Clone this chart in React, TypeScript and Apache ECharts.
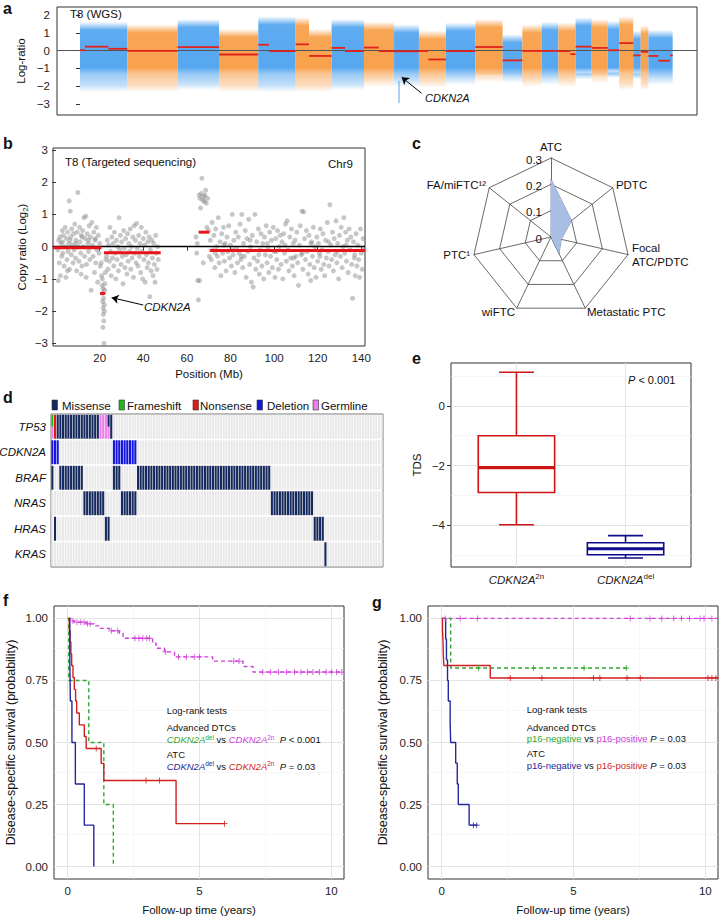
import React, { useEffect, useRef } from 'react';
import * as echarts from 'echarts';

const FONT = '"Liberation Sans", Arial, Helvetica, sans-serif';

// ---------------- Panel a: WGS log-ratio (genome position, Mb-like index) ----------------
// [start, end, upper edge, lower edge, colour index 0 = blue, 1 = orange]
const wgsBands: number[][] = [
  [0, 247, 1.6, -2.3, 0],
  [247, 510, 1.45, -2.3, 1],
  [510, 726, 1.75, -2.2, 0],
  [726, 931, 1.2, -2.3, 1],
  [931, 1126, 1.9, -2.3, 0],
  [1126, 1196, 1.85, -2.3, 1],
  [1196, 1314, 1.2, -2.3, 1],
  [1314, 1483, 1.75, -2.2, 0],
  [1483, 1640, 1.6, -2.0, 1],
  [1640, 1770, 1.45, -2.0, 0],
  [1770, 1911, 1.1, -2.05, 1],
  [1911, 2064, 1.55, -1.9, 0],
  [2064, 2207, 1.75, -1.75, 1],
  [2207, 2310, 0.9, -1.8, 0],
  [2310, 2411, 1.45, -2.0, 1],
  [2411, 2498, 1.6, -1.9, 0],
  [2498, 2588, 1.55, -2.0, 1],
  [2588, 2672, 1.85, -1.6, 0],
  [2672, 2756, 1.75, -1.8, 1],
  [2756, 2816, 1.65, -1.5, 0],
  [2816, 2889, 1.9, -2.2, 1],
  [2889, 2928, 1.1, -1.6, 0],
  [2928, 2968, 1.4, -2.2, 1],
  [2968, 3095, 1.15, -1.9, 0],
];
// segment means [start, end, value]
const wgsSegments: number[][] = [
  [0, 26, 0.02], [26, 148, 0.22], [148, 247, 0.1],
  [247, 510, -0.02], [510, 726, 0.2], [726, 931, -0.22],
  [931, 987, 0.33], [987, 1126, -0.03],
  [1126, 1196, 0.35], [1196, 1314, -0.3],
  [1314, 1384, 0.15], [1384, 1483, -0.03],
  [1483, 1560, 0.17], [1560, 1640, -0.03],
  [1640, 1770, -0.04],
  [1770, 1819, -0.02], [1819, 1911, -0.5],
  [1911, 2064, -0.03], [2064, 2207, 0.2], [2207, 2310, -0.55],
  [2310, 2411, -0.02], [2411, 2498, -0.02],
  [2498, 2560, -0.03], [2560, 2588, -0.2],
  [2588, 2672, 0.22], [2672, 2756, 0.15], [2756, 2816, 0.02],
  [2816, 2889, 0.42], [2889, 2928, -0.27], [2928, 2968, -0.07],
  [2968, 3020, -0.3], [3020, 3081, -0.57], [3081, 3095, -0.27],
];
const wgsSpike: number[][] = [[1666, -1.7, -2.95]];
const wgsTicks = [-3, -2, -1, 0, 1, 2];

// ---------------- Panel b: targeted sequencing, chr9 ----------------
const tsPoints: number[][] = [
  [0.8,-0.1],[1.2,0.2],[1.5,-0.5],[1.8,0.3],[2.0,-0.9],[2.3,0.1],[2.6,-0.3],[2.9,0.5],[3.1,-0.2],[3.4,0.35],[3.7,-0.6],[4.0,0.0],[4.2,0.6],[4.5,-0.95],[4.7,0.25],[5.0,-0.4],[5.3,0.45],[5.5,-0.15],[5.8,0.1],[6.0,1.42],[6.2,-0.7],[6.5,1.1],[6.7,0.3],[7.0,-0.25],[7.2,0.55],[7.5,0.05],[7.8,-0.5],[8.0,0.4],[8.3,-0.1],[8.6,0.7],[8.9,-0.35],[9.1,0.2],[9.4,-0.75],[9.7,0.45],[10.0,1.68],[10.2,0.0],[10.5,-0.45],[10.8,0.6],[11.0,0.15],[11.3,-0.2],[11.6,0.35],[11.9,-0.6],[12.2,0.5],[12.5,0.0],[12.8,0.9],[13.1,-0.3],[13.4,0.25],[13.7,0.95],[14.0,-0.55],[14.3,0.4],[14.6,0.1],[14.9,-0.15],[15.2,0.65],[15.5,-0.4],[15.8,0.3],[16.1,-1.35],[16.4,0.75],[16.7,0.05],[17.0,-0.3],[17.3,0.45],[17.6,-0.8],[17.9,0.2],[18.2,-0.5],[18.5,0.6],[18.8,-0.1],[19.1,-1.1],[19.4,0.35],[19.7,-0.2],[20.0,0.1],[20.3,-0.6],
  [3.0,0.15],[6.4,0.2],[9.0,0.1],[12.0,0.3],[15.0,0.2],[18.0,0.25],[1.0,-1.05],[5.2,-0.75],[11.5,-0.85],[13.8,-0.95],
  [20.7,-0.5],[20.9,-0.9],[21.1,-1.2],[21.3,-1.45],[21.4,-1.7],[21.5,-2.5],[21.6,-1.9],[21.7,-2.1],[21.8,-1.6],[21.9,-2.3],[22.0,-3.0],[22.1,-1.8],[22.2,-2.0],[22.3,-1.35],[22.4,-1.15],[22.6,-0.8],[22.8,-0.4],[21.2,-1.0],[21.6,-1.3],
  [23.2,-0.3],[23.5,0.2],[23.8,-0.7],[24.1,0.05],[24.4,-0.45],[24.7,0.6],[25.0,-0.15],[25.3,-0.9],[25.6,0.3],[25.9,-0.35],[26.2,0.1],[26.5,-0.6],[26.8,0.45],[27.1,-0.2],[27.4,-1.0],[27.7,0.2],[28.0,-0.4],[28.3,0.0],[28.6,-0.75],[28.9,0.9],[29.2,-0.1],[29.5,0.35],[29.8,-0.55],[30.1,0.15],[30.4,-0.3],[30.7,-1.15],[31.0,0.5],[31.3,-0.05],[31.6,-0.65],[31.9,0.25],[32.2,-0.25],[32.5,-0.85],[32.8,0.4],[33.1,-0.45],[33.4,0.1],[33.7,-0.15],[34.0,0.55],[34.3,-0.7],[34.6,0.0],[34.9,-0.35],[35.2,0.3],[35.5,-0.95],[35.8,0.65],[36.1,-0.2],[36.4,0.2],[36.7,-0.5],[37.0,0.72],[37.3,-0.05],[37.6,-0.6],[37.9,0.35],[38.2,-0.3],[38.5,0.1],[38.8,-0.8],[39.1,0.6],[39.4,-0.15],[39.7,-1.0],[40.0,0.25],[40.3,-0.4],[40.6,0.05],[40.9,-1.1],[41.2,0.45],[41.5,-0.25],[41.8,-0.65],[42.1,0.15],[42.4,-0.5],[42.7,0.3],[43.0,-1.55],[43.3,-0.1],[43.6,-0.75],[43.9,0.2],[44.2,-0.35],[44.5,-0.9],[44.8,0.1],[45.1,-0.55],[45.4,-1.1],[45.7,0.35],[46.0,-0.2],[46.3,-0.7],[46.6,0.0],[46.9,-0.4],
  [64.2,0.3],[64.5,-0.2],[64.8,0.1],[65.0,-1.05],[65.3,-1.65],[65.6,1.6],[65.8,-1.05],[66.0,1.5],[66.3,1.2],[66.6,1.65],[66.9,2.12],[67.2,1.45],[67.5,-0.5],[67.7,1.55],[68.0,1.4],[68.3,1.6],[68.6,1.75],[68.9,1.35],[69.2,0.6],[69.5,1.5],[70.0,0.5],[70.3,-0.3],
  [70.8,0.2],[71.2,-0.4],[71.6,0.75],[72.0,-0.1],[72.4,0.35],[72.8,-0.65],[73.2,0.55],[73.6,0.0],[74.0,-0.3],[74.4,0.9],[74.8,-0.5],[75.2,0.15],[75.6,-0.9],[76.0,0.4],[76.4,-0.2],[76.8,0.6],[77.2,-0.45],[77.6,0.1],[78.0,-0.75],[78.4,0.3],[78.8,-0.15],[79.2,0.65],[79.6,-0.35],[80.0,0.05],[80.4,-0.6],[80.8,1.0],[81.2,-0.25],[81.6,0.2],[82.0,-0.8],[82.4,0.45],[82.8,-0.05],[83.2,-0.5],[83.6,0.3],[84.0,-0.2],[84.4,0.7],[84.8,-0.4],[85.2,1.0],[85.6,-0.65],[86.0,0.1],[86.4,-0.3],[86.8,0.5],[87.2,-0.95],[87.6,0.25],[88.0,-0.15],[88.4,0.85],[88.8,-0.55],[89.2,0.0],[89.6,-1.1],[90.0,0.35],[90.4,-1.25],[90.8,-0.35],[91.2,1.0],[91.6,-0.7],[92.0,0.15],[92.4,-0.45],[92.8,0.55],[93.2,-0.85],[93.6,-0.1],[94.0,0.4],[94.4,-0.6],[94.8,0.1],[95.2,-1.0],[95.6,0.3],[96.0,-0.25],[96.4,0.65],[96.8,-0.5],[97.2,-0.05],[97.6,-0.8],[98.0,0.45],[98.4,-0.3],[98.8,0.2],[99.2,-0.65],[99.6,0.6],[100.0,-0.15],[100.4,-0.95],[100.8,0.25],[101.2,-0.4],[101.6,0.5],[102.0,-0.7],[102.4,0.0],[102.8,0.35],[103.2,-0.55],[103.6,0.15],[104.0,-1.0],[104.4,0.4],[104.8,-0.2],[105.2,0.7],[105.6,-0.45],[106.0,0.8],[106.4,-0.1],[106.8,-0.75],[107.2,0.3],[107.6,-0.35],[108.0,0.55],[108.4,-0.6],[108.8,0.1],[109.2,-0.9],[109.6,0.2],[110.0,-0.3],[110.4,0.45],[110.8,-0.5],[111.2,-1.2],[111.6,0.05],[112.0,0.65],[112.4,-0.25],[112.8,1.1],[113.2,-0.7],[113.6,1.08],[114.0,0.25],[114.4,-0.4],[114.8,0.5],[115.2,-0.15],[115.6,-0.85],[116.0,0.35],[116.4,-0.55],[116.8,-1.05],[117.2,0.15],[117.6,-0.3],[118.0,0.6],[118.4,-0.65],[118.8,0.0],[119.2,-0.95],[119.6,0.3],[120.0,-0.45],[120.4,0.1],[120.8,-0.2],[121.2,0.55],[121.6,-0.7],[122.0,-0.1],[122.4,0.4],[122.8,-0.55],[123.2,-0.9],[123.6,0.2],[124.0,-0.35],[124.4,0.75],[124.8,-0.15],[125.2,-0.6],[125.6,1.3],[126.0,0.05],[126.4,-0.4],[126.8,0.45],[127.2,-0.75],[127.6,0.25],[128.0,-0.25],[128.4,0.8],[128.8,-0.5],[129.2,0.1],[129.6,-1.0],[130.0,0.35],[130.4,-0.3],[130.8,0.6],[131.2,-0.65],[131.6,0.0],[132.0,0.9],[132.4,-0.2],[132.8,0.45],[133.2,-0.45],[133.6,0.2],[134.0,-0.8],[134.4,0.55],[134.8,-0.1],[135.2,0.3],[135.6,-0.55],[136.0,-1.6],[136.4,0.15],[136.8,-0.35],[137.2,-0.9],[137.6,0.4],[138.0,-0.6],[138.4,0.05],[138.8,-0.4],[139.2,-0.95],[139.6,0.55],[140.0,-0.2],[140.4,-0.7],[140.8,0.25],
  [73.0,-0.2],[77.0,0.05],[81.0,-0.1],[85.0,-0.3],[89.0,0.2],[93.0,-0.25],[97.0,0.1],[101.0,-0.15],[105.0,0.05],[109.0,-0.35],[113.0,-0.2],[117.0,0.1],[121.0,-0.3],[125.0,0.15],[129.0,-0.15],[133.0,0.05],[137.0,-0.25],[141.0,-0.1],
];
const tsSegments: number[][] = [
  [-1.4, 20.8, -0.03], [22, 48, -0.19], [20.2, 22.6, -1.45], [65.4, 70.3, 0.45], [70.5, 141.7, -0.12],
];
const tsXTicks = [20, 40, 60, 80, 100, 120, 140];
const tsYTicks = [-3, -2, -1, 0, 1, 2, 3];

// ---------------- Panel c: radar ----------------
const radarNames = ['ATC', 'FA/miFTC\u00b9\u00b2', 'PTC\u00b9', 'wiFTC', 'Metastatic PTC', 'Focal\nATC/PDTC', 'PDTC'];
const radarValues = [0.22, 0, 0, 0, 0.07, 0.04, 0.1];
const radarTicks = [0, 0.1, 0.2, 0.3];

// ---------------- Panel d: oncoprint ----------------
const genes = ['TP53', 'CDKN2A', 'BRAF', 'NRAS', 'HRAS', 'KRAS'];
const mutTypes = ['Missense', 'Frameshift', 'Nonsense', 'Deletion', 'Germline'];
const mutColors = ['#15295e', '#1db81d', '#e51717', '#1414e0', '#f07cf0'];
const nSamples = 124;
// per gene: [first sample, last sample, mutation type, part (0 full, 1 top half, 2 bottom half)]
const runsTP53 = [[0, 0, 1, 1], [0, 0, 4, 2], [1, 1, 2, 0], [2, 17, 0, 0], [18, 20, 4, 0], [21, 21, 0, 1], [21, 21, 4, 2], [22, 22, 0, 0]];
const runsCDKN2A = [[0, 2, 3, 0], [23, 31, 3, 0]];
const runsBRAF = [[0, 0, 0, 0], [3, 11, 0, 0], [23, 25, 0, 0], [32, 81, 0, 0]];
const runsNRAS = [[12, 19, 0, 0], [26, 31, 0, 0], [82, 97, 0, 0]];
const runsHRAS = [[1, 1, 0, 0], [20, 21, 0, 0], [98, 101, 0, 0]];
const runsKRAS = [[102, 102, 0, 0]];
const geneRuns = [runsTP53, runsCDKN2A, runsBRAF, runsNRAS, runsHRAS, runsKRAS];

// ---------------- Panel e: TDS boxplot ----------------
// [position, min, q1, median, q3, max, colour]
const tdsBoxes = [
  [1, -3.98, -2.9, -2.07, -1.0, 1.12, 0],
  [2, -5.09, -4.98, -4.78, -4.58, -4.34, 1],
];
const tdsColors = ['#cc1414', '#0c0c8c'];
const tdsYTicks = [0, -2, -4];

// ---------------- Panels f and g: Kaplan–Meier ----------------
const kmXTicks = [0, 5, 10];
const kmYTicks = [0, 0.25, 0.5, 0.75, 1];

const fMagenta = [[0,1],[0.13,0.99],[0.25,0.985],[0.7,0.978],[1.0,0.97],[1.2,0.96],[1.58,0.95],[1.96,0.94],[2.1,0.92],[3.22,0.9],[3.35,0.88],[3.67,0.865],[4.05,0.845],[5.5,0.828],[6.65,0.806],[7.03,0.784],[10.47,0.784]];
const fMagentaCens = [0.2,0.35,0.5,0.62,0.75,0.85,1.65,1.9,2.55,2.7,2.85,3.0,3.1,3.7,4.2,4.5,4.8,5.0,6.3,6.5,7.4,7.7,8.0,8.3,8.6,8.85,9.1,9.3,9.55,9.8,10.0,10.2,10.4];
const fRed = [[0.03,1.0],[0.06,0.952],[0.09,0.905],[0.12,0.857],[0.15,0.81],[0.2,0.762],[0.25,0.714],[0.3,0.667],[0.34,0.619],[0.44,0.571],[0.63,0.524],[0.7,0.476],[1.27,0.416],[1.37,0.347],[4.11,0.173],[5.95,0.173]];
const fRedCens = [1.08, 2.97, 3.48, 5.95];
const fBlue = [[0.05,1.0],[0.08,0.833],[0.1,0.667],[0.16,0.5],[0.29,0.333],[0.63,0.167],[0.99,0]];
const fGreen = [[0,1.0],[0.04,0.75],[0.8,0.5],[1.37,0.25],[1.73,0]];

const gMagenta = [[0,1],[10.48,1]];
const gMagentaCens = [0.13,0.7,1.35,7.15,7.9,8.35,8.8,9.1,9.4,9.8,9.95,10.25];
const gRed = [[0,1],[0.03,0.952],[0.05,0.905],[0.06,0.857],[0.08,0.81],[1.84,0.76],[10.48,0.76]];
const gRedCens = [2.6,3.8,5.76,6.0,7.03,7.53,10.1,10.25,10.4];
const gGreen = [[0,1],[0.34,0.8],[7.03,0.8]];
const gGreenCens = [1.39,3.48,5.4,7.0];
const gBlue = [[0.06,1.0],[0.15,0.917],[0.18,0.833],[0.22,0.75],[0.25,0.667],[0.32,0.583],[0.34,0.5],[0.53,0.417],[0.59,0.333],[0.63,0.25],[1.04,0.167],[1.35,0.167]];
const gBlueCens = [1.2, 1.33];

const C_GREEN = '#2fa82f';
const C_MAG = '#cf40dc';
const C_RED = '#d11f1f';
const C_BLUE = '#26269e';

// ---------------- helpers ----------------
const fmt = (v: number, d = 0) => (v < 0 ? '\u2212' : '') + Math.abs(v).toFixed(d);
const survAt = (steps: number[][], t: number) => {
  let s = steps[0][1];
  for (const [tt, v] of steps) { if (tt <= t) s = v; else break; }
  return s;
};
const PLUS = 'path://M-0.13,-1H0.13V-0.13H1V0.13H0.13V1H-0.13V0.13H-1V-0.13H-0.13Z';

const valueAxis = (gridIndex: number, min: number, max: number, ticks: number[] | null, o: any = {}) => ({
  type: 'value', gridIndex, min, max, scale: false,
  axisLine: { show: false },
  splitLine: { show: false },
  axisTick: ticks ? { show: true, length: 4, lineStyle: { color: '#333', width: 1 }, customValues: ticks } : { show: false },
  axisLabel: ticks
    ? {
        show: true, customValues: ticks,
        color: '#222', fontSize: 11.5, fontFamily: FONT, margin: o.margin ?? 6,
        formatter: o.formatter ?? ((v: number) => fmt(v)), rich: o.rich,
      }
    : { show: false },
  name: o.name, nameLocation: 'middle', nameGap: o.nameGap ?? 25, nameMoveOverlap: false,
  nameTextStyle: { color: '#111', fontSize: o.nameSize ?? 11.5, fontFamily: FONT, rich: o.nameRich },
});

const txt = (x: number, y: number, text: string, o: any = {}) => ({
  type: 'text', x, y, silent: true, z: 100,
  style: {
    text, fill: o.fill || '#111', fontSize: o.size || 11.5, fontFamily: FONT,
    fontStyle: o.italic ? 'italic' : 'normal', fontWeight: o.bold ? 'bold' : 'normal',
    textAlign: o.align || 'left', textVerticalAlign: o.va || 'middle', rich: o.rich,
  },
});

const rt = (fill: string, size: number, italic = false, sup = false) => ({
  fill, color: fill, fontSize: size, fontFamily: FONT, fontStyle: italic ? 'italic' : 'normal',
  verticalAlign: sup ? 'top' : 'middle', lineHeight: 12,
});

function buildOption() {
  const grids = [
    { left: 57, top: 7, width: 640, height: 108 },
    { left: 53, top: 148, width: 312, height: 198 },
    { left: 51, top: 414, width: 332, height: 153 },
    { left: 451, top: 363, width: 240, height: 204 },
    { left: 54, top: 606, width: 290, height: 273 },
    { left: 428, top: 606, width: 290, height: 273 },
  ].map((g, i) => ({
    ...g, show: true, containLabel: false, outerBoundsMode: 'none',
    borderColor: i === 2 ? '#777' : '#333', borderWidth: 1, backgroundColor: 'transparent',
  }));

  const xAxes = [
    { type: 'value', gridIndex: 0, min: -120, max: 3222, show: false },
    valueAxis(1, -1.4, 141.7, tsXTicks, { name: 'Position (Mb)', nameGap: 22, margin: 6 }),
    { type: 'value', gridIndex: 2, min: 0, max: nSamples, show: false },
    valueAxis(3, 0.4, 2.6, [1, 2], {
      margin: 5,
      formatter: (v: number) => (v === 1 ? '{i|CDKN2A}{s|2n}' : '{i|CDKN2A}{s|del}'),
      rich: {
        i: { fontStyle: 'italic', fontSize: 11.5, color: '#222', fontFamily: FONT, lineHeight: 15 },
        s: { fontSize: 8, color: '#222', fontFamily: FONT, verticalAlign: 'top', lineHeight: 15 },
      },
    }),
    valueAxis(4, -0.52, 10.48, kmXTicks, { name: 'Follow-up time (years)', nameGap: 25 }),
    valueAxis(5, -0.52, 10.48, kmXTicks, { name: 'Follow-up time (years)', nameGap: 25 }),
  ];
  const yAxes = [
    valueAxis(0, -3.62, 2.45, wgsTicks, { name: 'Log-ratio', nameGap: 30, margin: 7 }),
    valueAxis(1, -3.08, 3.06, tsYTicks, {
      name: 'Copy ratio (Log{s|2})', nameGap: 24, margin: 5,
      nameRich: { s: { fontSize: 8, fontFamily: FONT, color: '#111', verticalAlign: 'bottom', lineHeight: 14 } },
    }),
    {
      type: 'category', gridIndex: 2, data: genes, inverse: true,
      axisLine: { show: false }, axisTick: { show: false }, splitLine: { show: false },
      axisLabel: { fontStyle: 'italic', fontSize: 11.5, color: '#111', fontFamily: FONT, margin: 5 },
    },
    valueAxis(3, -5.39, 1.43, tdsYTicks, { name: 'TDS', nameGap: 28, margin: 6 }),
    valueAxis(4, -0.05, 1.05, kmYTicks, { name: 'Disease-specific survival (probability)', nameGap: 37, nameSize: 12.5, formatter: (v: number) => v.toFixed(2) }),
    valueAxis(5, -0.05, 1.05, kmYTicks, { name: 'Disease-specific survival (probability)', nameGap: 39, nameSize: 12.5, formatter: (v: number) => v.toFixed(2) }),
  ];

  // ---- renderers ----
  const bandRender = (_p: any, api: any) => {
    const s = api.value(0), e = api.value(1), top = api.value(2), bot = api.value(3), ci = api.value(4);
    const p1 = api.coord([s, top]);
    const p2 = api.coord([e, bot]);
    const rgb = ci === 0 ? '86,167,240' : '248,161,76';
    const span = top - bot;
    const o = (v: number) => Math.min(1, Math.max(0, (top - v) / span));
    const stops = [
      { offset: 0, color: `rgba(${rgb},0.05)` },
      { offset: o(top - 0.2), color: `rgba(${rgb},0.45)` },
      { offset: o(top - 0.45), color: `rgba(${rgb},0.95)` },
      { offset: o(-0.95), color: `rgba(${rgb},1)` },
      { offset: o(-1.3), color: `rgba(${rgb},0.62)` },
      { offset: o(bot + 0.35), color: `rgba(${rgb},0.35)` },
      { offset: 1, color: `rgba(${rgb},0.04)` },
    ].sort((a, b) => a.offset - b.offset);
    return {
      type: 'rect',
      shape: { x: p1[0], y: p1[1], width: p2[0] - p1[0], height: p2[1] - p1[1] },
      style: { fill: new echarts.graphic.LinearGradient(0, 0, 0, 1, stops) },
    };
  };
  const segRender = (color: string, width: number) => (_p: any, api: any) => {
    const p1 = api.coord([api.value(0), api.value(2)]);
    const p2 = api.coord([api.value(1), api.value(2)]);
    return { type: 'line', shape: { x1: p1[0], y1: p1[1], x2: p2[0], y2: p2[1] }, style: { stroke: color, lineWidth: width } };
  };
  const spikeRender = (_p: any, api: any) => {
    const p1 = api.coord([api.value(0), api.value(1)]);
    const p2 = api.coord([api.value(0), api.value(2)]);
    return { type: 'line', shape: { x1: p1[0], y1: p1[1], x2: p2[0], y2: p2[1] }, style: { stroke: 'rgb(86,167,240)', lineWidth: 1 } };
  };
  const cellRender = (_p: any, api: any) => {
    const c = api.value(0), r = api.value(1), t = api.value(2), part = api.value(3);
    const p = api.coord([c, r]);
    const sz = api.size([1, 1]);
    const cw = sz[0], bh = sz[1];
    const x = p[0] + 0.3, w = cw - 0.6;
    let y = p[1] - bh / 2 + 0.8, h = bh - 1.6;
    if (part === 1) h = h / 2;
    else if (part === 2) { y += h / 2; h = h / 2; }
    return { type: 'rect', shape: { x, y, width: w, height: h }, style: { fill: t < 0 ? '#e9e9e9' : mutColors[t] } };
  };
  const boxRender = (_p: any, api: any) => {
    const x = api.value(0), mn = api.value(1), q1 = api.value(2), md = api.value(3), q3 = api.value(4), mx = api.value(5), ci = api.value(6);
    const col = tdsColors[ci];
    const bw = 0.7, cw = 0.32;
    const L = api.coord([x - bw / 2, q3]);
    const R = api.coord([x + bw / 2, q1]);
    const cL = api.coord([x - cw / 2, mx])[0];
    const cR = api.coord([x + cw / 2, mx])[0];
    const cx = api.coord([x, mx])[0];
    const yMax = api.coord([x, mx])[1], yMin = api.coord([x, mn])[1], yMed = api.coord([x, md])[1];
    const ls = { stroke: col, lineWidth: 1.6, fill: 'none' };
    return {
      type: 'group',
      children: [
        { type: 'line', shape: { x1: cx, y1: yMax, x2: cx, y2: L[1] }, style: ls },
        { type: 'line', shape: { x1: cx, y1: R[1], x2: cx, y2: yMin }, style: ls },
        { type: 'line', shape: { x1: cL, y1: yMax, x2: cR, y2: yMax }, style: ls },
        { type: 'line', shape: { x1: cL, y1: yMin, x2: cR, y2: yMin }, style: ls },
        { type: 'rect', shape: { x: L[0], y: L[1], width: R[0] - L[0], height: R[1] - L[1] }, style: { stroke: col, lineWidth: 1.6, fill: '#fff' } },
        { type: 'line', shape: { x1: L[0], y1: yMed, x2: R[0], y2: yMed }, style: { stroke: col, lineWidth: 3.2 } },
      ],
    };
  };

  // ---- oncoprint data ----
  const bgCells: number[][] = [];
  genes.forEach((_g, r) => { for (let c = 0; c < nSamples; c++) bgCells.push([c, r, -1, 0]); });
  const mutCells: number[][] = [];
  geneRuns.forEach((runs, r) => runs.forEach(([a, b, t, part]) => { for (let c = a; c <= b; c++) mutCells.push([c, r, t, part]); }));

  // ---- grid lines (ggplot theme_bw) ----
  const gl = (xi: number, dummy: number[], majX: number[], minX: number[], majY: number[], minY: number[]) => ({
    type: 'scatter', xAxisIndex: xi, yAxisIndex: xi, data: [dummy], symbolSize: 0, silent: true, z: 1,
    markLine: {
      silent: true, symbol: ['none', 'none'], label: { show: false }, animation: false,
      data: [
        ...minX.map((v) => ({ xAxis: v, lineStyle: { color: '#f1f1f1', width: 0.6, type: 'solid' } })),
        ...minY.map((v) => ({ yAxis: v, lineStyle: { color: '#f1f1f1', width: 0.6, type: 'solid' } })),
        ...majX.map((v) => ({ xAxis: v, lineStyle: { color: '#e4e4e4', width: 1, type: 'solid' } })),
        ...majY.map((v) => ({ yAxis: v, lineStyle: { color: '#e4e4e4', width: 1, type: 'solid' } })),
      ],
    },
  });
  const km = (xi: number, steps: number[][], color: string, dashed: boolean) => ({
    type: 'line', xAxisIndex: xi, yAxisIndex: xi, data: steps, step: 'end', symbol: 'none', silent: true, z: 10,
    lineStyle: { color, width: 1.4, type: dashed ? [4, 3] : 'solid' },
  });
  const cens = (xi: number, steps: number[][], times: number[], color: string) => ({
    type: 'scatter', xAxisIndex: xi, yAxisIndex: xi, silent: true, z: 11,
    data: times.map((t) => [t, survAt(steps, t)]), symbol: PLUS, symbolSize: 6, itemStyle: { color, opacity: 1 },
  });

  const arrowML = (a: number[], b: number[], color = '#000') => [
    { coord: a, symbol: 'none', lineStyle: { color, width: 1, type: 'solid' } },
    { coord: b, symbol: 'arrow', symbolSize: 7 },
  ];

  const series: any[] = [
    // panel a
    { type: 'custom', xAxisIndex: 0, yAxisIndex: 0, data: wgsBands, renderItem: bandRender, silent: true, z: 1, clip: true },
    { type: 'custom', xAxisIndex: 0, yAxisIndex: 0, data: wgsSpike, renderItem: spikeRender, silent: true, z: 2, clip: true },
    {
      type: 'custom', xAxisIndex: 0, yAxisIndex: 0, data: wgsSegments, renderItem: segRender('#e3231b', 1.8), silent: true, z: 6, clip: true,
      markLine: {
        silent: true, symbol: ['none', 'none'], label: { show: false }, animation: false,
        data: [
          { yAxis: 0, lineStyle: { color: '#555', width: 1, type: 'solid' } },
          arrowML([1784, -2.4], [1680, -1.5]),
        ],
      },
    },
    // panel b
    {
      type: 'scatter', xAxisIndex: 1, yAxisIndex: 1, data: tsPoints, symbolSize: 5, silent: true, z: 2,
      itemStyle: { color: 'rgba(128,128,128,0.55)' },
      markLine: {
        silent: true, symbol: ['none', 'none'], label: { show: false }, animation: false,
        data: [
          { yAxis: 0, lineStyle: { color: '#000', width: 1.4, type: 'solid' } },
          arrowML([40.0, -1.81], [25.5, -1.58]),
        ],
      },
    },
    { type: 'custom', xAxisIndex: 1, yAxisIndex: 1, data: tsSegments, renderItem: segRender('#e8141a', 3), silent: true, z: 6, clip: true },
    // panel c
    {
      type: 'radar', radarIndex: 0, silent: true, symbol: 'none',
      data: [{ value: radarValues, areaStyle: { color: '#a9bee5', opacity: 1 }, lineStyle: { color: '#56688f', width: 0.7 } }],
    },
    // panel d
    { type: 'custom', xAxisIndex: 2, yAxisIndex: 2, data: bgCells, renderItem: cellRender, silent: true, z: 1 },
    { type: 'custom', xAxisIndex: 2, yAxisIndex: 2, data: mutCells, renderItem: cellRender, silent: true, z: 2 },
    // panel e
    gl(3, [1, 0], [1, 2], [], tdsYTicks, [1, -1, -3, -5]),
    { type: 'custom', xAxisIndex: 3, yAxisIndex: 3, data: tdsBoxes, renderItem: boxRender, silent: true, z: 10 },
    // panel f
    gl(4, [0, 0], kmXTicks, [2.5, 7.5], kmYTicks, [0.125, 0.375, 0.625, 0.875]),
    km(4, fMagenta, C_MAG, true),
    km(4, fGreen, C_GREEN, true),
    km(4, fRed, C_RED, false),
    km(4, fBlue, C_BLUE, false),
    cens(4, fMagenta, fMagentaCens, C_MAG),
    cens(4, fRed, fRedCens, C_RED),
    // panel g
    gl(5, [0, 0], kmXTicks, [2.5, 7.5], kmYTicks, [0.125, 0.375, 0.625, 0.875]),
    km(5, gMagenta, C_MAG, true),
    km(5, gGreen, C_GREEN, true),
    km(5, gRed, C_RED, false),
    km(5, gBlue, C_BLUE, false),
    cens(5, gMagenta, gMagentaCens, C_MAG),
    cens(5, gGreen, gGreenCens, C_GREEN),
    cens(5, gRed, gRedCens, C_RED),
    cens(5, gBlue, gBlueCens, C_BLUE),
  ];

  // ---- radar ----
  const RC = { cx: 551, cy: 237, r: 79 };
  const radar = [{
    center: [RC.cx, RC.cy], radius: RC.r, startAngle: 90, splitNumber: 3, shape: 'polygon',
    indicator: radarNames.map((name) => ({ name, min: 0, max: 0.3 })),
    axisName: { color: '#111', fontSize: 11.5, fontFamily: FONT, lineHeight: 14 },
    nameGap: 4,
    splitLine: { lineStyle: { color: '#444', width: 0.8 } },
    splitArea: { show: false },
    axisLine: { lineStyle: { color: '#444', width: 0.8 } },
    axisTick: { show: false }, axisLabel: { show: false },
  }];

  // ---- graphic texts ----
  const ANN = 9.5;
  const annRich = {
    k: rt('#111', ANN), ki: rt('#111', ANN, true),
    g: rt(C_GREEN, ANN, true), gs: rt(C_GREEN, 6.5, false, true),
    m: rt(C_MAG, ANN, true), ms: rt(C_MAG, 6.5, false, true),
    b: rt(C_BLUE, ANN, true), bs: rt(C_BLUE, 6.5, false, true),
    r: rt(C_RED, ANN, true), rs: rt(C_RED, 6.5, false, true),
    gn: rt(C_GREEN, ANN), mn: rt(C_MAG, ANN), bn: rt(C_BLUE, ANN), rn: rt(C_RED, ANN),
  };
  const legendX = [52, 119, 193, 257, 313];
  const legendTextX = [62, 127, 200, 267, 321];

  const graphic: any[] = [
    txt(3, 0, 'a', { bold: true, size: 16, va: 'top' }),
    txt(3, 135, 'b', { bold: true, size: 16, va: 'top' }),
    txt(412, 135, 'c', { bold: true, size: 16, va: 'top' }),
    txt(3, 389, 'd', { bold: true, size: 16, va: 'top' }),
    txt(412, 350, 'e', { bold: true, size: 16, va: 'top' }),
    txt(3, 592, 'f', { bold: true, size: 16, va: 'top' }),
    txt(372, 594, 'g', { bold: true, size: 16, va: 'top' }),
    // a
    txt(70, 14, 'T8 (WGS)', { size: 11.5 }),
    txt(425, 98, 'CDKN2A', { italic: true, size: 11 }),
    // b
    txt(65, 162, 'T8 (Targeted sequencing)', { size: 11.5 }),
    txt(328, 164, 'Chr9', { size: 11.5 }),
    txt(144, 307, 'CDKN2A', { italic: true, size: 11.5 }),
    // c radial tick labels
    ...radarTicks.map((v) => txt(RC.cx - 9, RC.cy - RC.r * (v / 0.3) + 1.5, v === 0 ? '0' : v.toFixed(1), { align: 'right', size: 11.5 })),
    // d legend
    ...mutTypes.map((m, i) => ({
      type: 'rect', silent: true, z: 100,
      shape: { x: legendX[i], y: 400, width: 5.5, height: 10 },
      style: { fill: mutColors[i], stroke: '#333', lineWidth: 0.6 },
    })),
    ...mutTypes.map((m, i) => txt(legendTextX[i], 405.5, m, { size: 11.5 })),
    // e
    txt(628, 380, '{i|P}{n| < 0.001}', {
      size: 11, rich: { i: { ...rt('#111', 11, true), lineHeight: 14 }, n: { ...rt('#111', 11), lineHeight: 14 } },
    }),
    // f
    txt(166.7, 710, 'Log-rank tests', { size: ANN }),
    txt(166.7, 727.7, 'Advanced DTCs', { size: ANN }),
    txt(166.7, 739.5, '{g|CDKN2A}{gs|del}{k| vs }{m|CDKN2A}{ms|2n}{k|  }{ki|P}{k| < 0.001}', { size: ANN, rich: annRich }),
    txt(166.7, 754, 'ATC', { size: ANN }),
    txt(166.7, 766, '{b|CDKN2A}{bs|del}{k| vs }{r|CDKN2A}{rs|2n}{k|  }{ki|P}{k| = 0.03}', { size: ANN, rich: annRich }),
    // g
    txt(526.7, 709.3, 'Log-rank tests', { size: ANN }),
    txt(526.7, 727.7, 'Advanced DTCs', { size: ANN }),
    txt(526.7, 738.8, '{gn|p16-negative}{k| vs }{mn|p16-positive}{k| }{ki|P}{k| = 0.03}', { size: ANN, rich: annRich }),
    txt(526.7, 753.7, 'ATC', { size: ANN }),
    txt(526.7, 765.7, '{bn|p16-negative}{k| vs }{rn|p16-positive}{k| }{ki|P}{k| = 0.03}', { size: ANN, rich: annRich }),
  ];

  return {
    animation: false,
    backgroundColor: '#fff',
    textStyle: { fontFamily: FONT },
    grid: grids,
    xAxis: xAxes,
    yAxis: yAxes,
    radar,
    series,
    graphic,
  };
}

export default function App() {
  const ref = useRef<HTMLDivElement>(null);
  useEffect(() => {
    if (!ref.current) return;
    const chart = echarts.init(ref.current, null, { renderer: 'svg' });
    chart.setOption(buildOption() as any);
    return () => chart.dispose();
  }, []);
  return <div ref={ref} style={{ position: 'absolute', left: 0, top: 0, width: 719, height: 917 }} />;
}
